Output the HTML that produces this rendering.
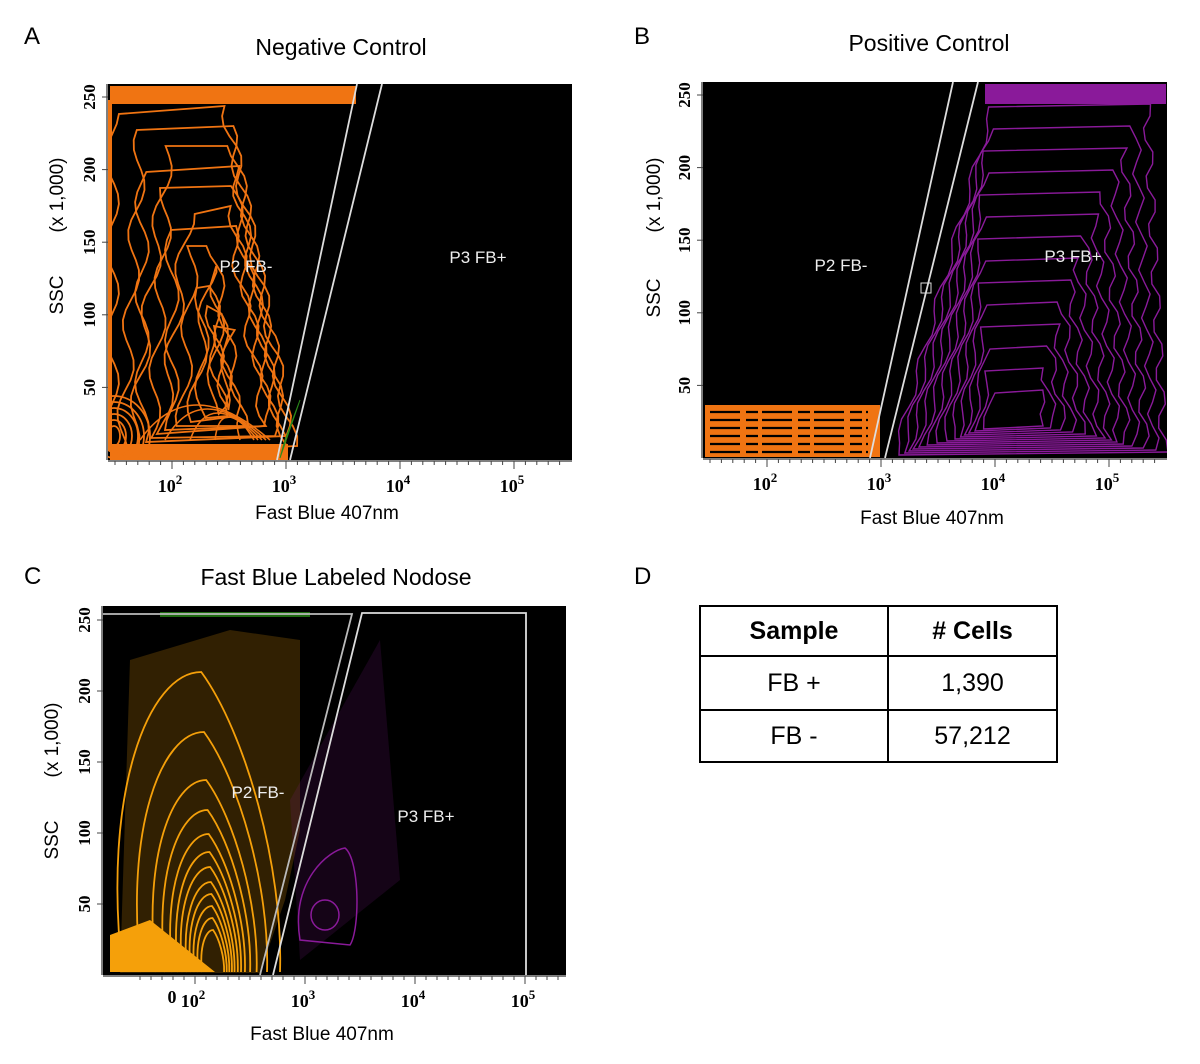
<!DOCTYPE html>
<html><head><meta charset="utf-8">
<style>
body{margin:0;background:#fff;width:1200px;height:1064px;overflow:hidden;font-family:"Liberation Sans",sans-serif;}
svg{position:absolute;left:0;top:0}
.tbl{position:absolute;left:699px;top:605px;width:359px;height:158px;border:2px solid #000;box-sizing:border-box;font-size:25px}
.tbl div{position:absolute;box-sizing:border-box;display:flex;align-items:center;justify-content:center}
</style></head><body>
<svg id="fig" width="1200" height="1064" viewBox="0 0 1200 1064"></svg>
<div class="tbl">
  <div style="left:0;top:0;width:188px;height:50px;border-right:2px solid #000;border-bottom:2px solid #000;font-weight:bold">Sample</div>
  <div style="left:188px;top:0;width:167px;height:50px;border-bottom:2px solid #000;font-weight:bold"># Cells</div>
  <div style="left:0;top:50px;width:188px;height:54px;border-right:2px solid #000;border-bottom:2px solid #000">FB +</div>
  <div style="left:188px;top:50px;width:167px;height:54px;border-bottom:2px solid #000">1,390</div>
  <div style="left:0;top:104px;width:188px;height:50px;border-right:2px solid #000">FB -</div>
  <div style="left:188px;top:104px;width:167px;height:50px">57,212</div>
</div>
<script>
const yTicks=[50,100,150,200,250];
const xDecades=[2,3,4,5];
const contourLevelsA=[0,1,2,3,4,5,6,7,8,9,10,11];
const contourLevelsB=[0,1,2,3,4,5,6,7,8,9,10,11,12,13];
const contourLevelsC=[1,0.8,0.64,0.54,0.46,0.4,0.35,0.3,0.26,0.22,0.18,0.14];
const svg=document.getElementById('fig');
const NS='http://www.w3.org/2000/svg';
function mk(tag,attrs,parent){const e=document.createElementNS(NS,tag);for(const k in attrs)e.setAttribute(k,attrs[k]);(parent||svg).appendChild(e);return e;}
function txt(x,y,s,attrs,parent){const t=mk('text',Object.assign({x:x,y:y},attrs),parent);t.textContent=s;return t;}
const defs=mk('defs',{});

const panels=[
 {id:'a',letter:'A',lx:24,ly:44,title:'Negative Control',tx:341,ty:55,x0:108,x1:572,y0:84,y1:460,y250:97,x2:172,dec:114,xl:327,xly:519,ylab:55,ssc:295,units:195},
 {id:'b',letter:'B',lx:634,ly:44,title:'Positive Control',tx:929,ty:51,x0:703,x1:1167,y0:82,y1:458,y250:95,x2:767,dec:114,xl:932,xly:524,ylab:652,ssc:298,units:195},
 {id:'c',letter:'C',lx:24,ly:584,title:'Fast Blue Labeled Nodose',tx:336,ty:585,x0:103,x1:566,y0:606,y1:975,y250:620,x2:195,dec:110,xl:322,xly:1040,ylab:50,ssc:840,units:740}
];
panels.forEach(p=>{
 const cp=mk('clipPath',{id:'clip-'+p.id},defs);
 mk('rect',{x:p.x0,y:p.y0,width:p.x1-p.x0,height:p.y1-p.y0},cp);
 const g=mk('g',{});
 
 
 const L=txt(p.lx,p.ly,p.letter,{'font-size':24,fill:'#000'},g);
 
 
 const T=txt(p.tx,p.ty,p.title,{'font-size':23,'text-anchor':'middle',fill:'#000'},g);
 
 
 const bg=mk('rect',{x:p.x0,y:p.y0,width:p.x1-p.x0,height:p.y1-p.y0,fill:'#000'},g);
 
 
 p.g=g;
 p.pg=mk('g',{'clip-path':'url(#clip-'+p.id+')'},g);
 p.ys=v=>p.y1-(p.y1-p.y250)*v/250;
 p.xs=d=>p.x2+(d-2)*p.dec;
 mk('line',{x1:p.x0,y1:p.y1+1,x2:p.x1,y2:p.y1+1,stroke:'#555','stroke-width':1.5},g);
 mk('line',{x1:p.x0-1,y1:p.y0,x2:p.x0-1,y2:p.y1,stroke:'#555','stroke-width':1.5},g);
 yTicks.forEach(v=>{
  const y=p.ys(v);
  mk('line',{x1:p.x0-6,y1:y,x2:p.x0,y2:y,stroke:'#444'},g);
  const t=txt(p.x0-13,y,String(v),{'font-size':17,'font-weight':'bold','font-family':'Liberation Serif, serif','text-anchor':'middle',transform:'rotate(-90 '+(p.x0-13)+' '+y+')',fill:'#000'},g);
  
  
 });
 for(let d=1.5;d<=5.4;d+=0.1){const x=p.xs(d);if(x<p.x0||x>p.x1)continue;const major=Math.abs(d-Math.round(d))<0.01;mk('line',{x1:x,y1:p.y1+1,x2:x,y2:p.y1+(major?9:5),stroke:'#444'},g);}
 xDecades.forEach(d=>{
  const x=p.xs(d);
  const t=txt(x-2,p.y1+32,'10',{'font-size':18,'font-weight':'bold','font-family':'Liberation Serif, serif','text-anchor':'middle',fill:'#000'},g);
  
  
  const s=mk('tspan',{dy:-8,'font-size':13},t);s.textContent=d;
 });
 const xl=txt(p.xl,p.xly,'Fast Blue 407nm',{'font-size':19,'text-anchor':'middle',fill:'#000'},g);
 
 
 const ya=txt(p.ylab+8,p.ssc,'SSC',{'font-size':19,'text-anchor':'middle',fill:'#000',transform:'rotate(-90 '+(p.ylab+8)+' '+p.ssc+')'},g);
 
 
 const yb=txt(p.ylab+8,p.units,'(x 1,000)',{'font-size':19,'text-anchor':'middle',fill:'#000',transform:'rotate(-90 '+(p.ylab+8)+' '+p.units+')'},g);
 
 
});
const [A,B,C]=panels;

const z=txt(172,1003,'0',{'font-size':18,'font-weight':'bold','font-family':'Liberation Serif, serif','text-anchor':'middle'},C.g);



function wavy(pts){return 'M'+pts.map(q=>q[0].toFixed(1)+','+q[1].toFixed(1)).join('L');}

// ===== Panel A =====
const OR='#f07412';
mk('rect',{x:110,y:86,width:246,height:18,fill:OR},A.pg);
mk('rect',{x:110,y:444,width:178,height:16,fill:OR},A.pg);
mk('rect',{x:108,y:100,width:4,height:350,fill:OR},A.pg);
contourLevelsA.forEach(i=>{
 const left=112+i*10, right=296-i*5-(i>6?18:0), top=106+i*20, bot=454-i*4;
 const pts=[];
 for(let y=bot;y>=top;y-=10){pts.push([left+7*Math.sin(y*0.07+i)+(bot-y)*0.06*(i%3),y]);}
 for(let y=top;y<=bot;y+=10){pts.push([Math.min(right-(bot-y)*0.17,296-(460-y)*0.2)+6*Math.sin(y*0.09+i*2),y]);}
 const c=mk('path',{d:wavy(pts)+'Z',fill:'none',stroke:OR,'stroke-width':1.8},A.pg);
 
 
});
for(let i=0;i<6;i++){mk('ellipse',{cx:114,cy:436,rx:6+i*6,ry:10+i*6,fill:'none',stroke:OR,'stroke-width':1.8},A.pg);}
for(let i=0;i<5;i++){mk('path',{d:'M'+(140+i*25)+',440 Q'+(190+i*10)+','+(370+i*8)+' '+(270-i*4)+',440',fill:'none',stroke:OR,'stroke-width':1.6},A.pg);}
mk('path',{d:'M280,458 L300,400 L285,440Z',fill:'none',stroke:'#2a8a1a'},A.pg);
const gA=mk('g',{},A.g);


mk('line',{x1:277,y1:460,x2:357,y2:84,stroke:'#ddd','stroke-width':1.8},gA);
mk('line',{x1:290,y1:460,x2:382,y2:84,stroke:'#ddd','stroke-width':1.8},gA);
[['P2 FB-',246,272],['P3 FB+',478,263]].forEach((q,k)=>{const t=txt(q[1],q[2],q[0],{'font-size':17,fill:'#eee','text-anchor':'middle'},A.g);});

// ===== Panel B =====
const PU='#8a1a9a';
mk('rect',{x:985,y:84,width:181,height:20,fill:PU},B.pg);
mk('rect',{x:705,y:405,width:175,height:52,fill:OR},B.pg);
for(let k=0;k<6;k++){mk('line',{x1:710,y1:412+k*8,x2:868,y2:412+k*8,stroke:'#000','stroke-width':2.2,'stroke-dasharray':'30 6 12 4'},B.pg);}
contourLevelsB.forEach(i=>{
 const left=895+i*7, right=1164-i*9, top=104+i*22, bot=455-i*2;
 const pts=[];
 for(let y=bot;y>=top;y-=12){pts.push([left+(bot-y)*(0.28-i*0.01)+4*Math.sin(y*0.1+i),y]);}
 for(let y=top;y<=bot;y+=12){pts.push([right-(bot-y)*(0.05+i*0.012)+5*Math.sin(y*0.13+i),y]);}
 const c=mk('path',{d:wavy(pts)+'Z',fill:'none',stroke:PU,'stroke-width':1.4},B.pg);
 
 
});
const gB=mk('g',{},B.g);


mk('line',{x1:870,y1:458,x2:953,y2:82,stroke:'#ddd','stroke-width':1.8},gB);
mk('line',{x1:885,y1:458,x2:978,y2:82,stroke:'#ddd','stroke-width':1.8},gB);
mk('rect',{x:921,y:283,width:10,height:10,fill:'none',stroke:'#ddd'},gB);
[['P2 FB-',841,271],['P3 FB+',1073,262]].forEach((q,k)=>{const t=txt(q[1],q[2],q[0],{'font-size':17,fill:'#eee','text-anchor':'middle'},B.g);});

// ===== Panel C =====
const OC='#f5a00a';
mk('path',{d:'M130,660 L230,630 L300,640 L300,830 L285,900 L260,973 L120,973Z',fill:OC,opacity:0.2},C.pg);
mk('path',{d:'M110,972 L110,935 L150,920 L215,972Z',fill:OC},C.pg);
mk('rect',{x:160,y:612,width:150,height:5,fill:'#1e6a10'},C.pg);
contourLevelsC.forEach((s,i)=>{
 const cx=175+40*(1-s), bot=972, h=300*s, w=175*s;
 const top=bot-h;
 const d='M'+(cx-w*0.3)+','+bot+' C'+(cx-w*0.42)+','+(bot-h*0.6)+' '+(cx-w*0.15)+','+top+' '+(cx+w*0.15)+','+top+' C'+(cx+w*0.4)+','+(top+h*0.2)+' '+(cx+w*0.62)+','+(bot-h*0.35)+' '+(cx+w*0.6)+','+bot;
 const c=mk('path',{d:d,fill:'none',stroke:OC,'stroke-width':1.8},C.pg);
 
 
});
mk('path',{d:'M300,940 C290,880 330,850 345,848 C360,860 360,930 350,945 Z',fill:'none',stroke:PU,'stroke-width':1.5},C.pg);
mk('ellipse',{cx:325,cy:915,rx:14,ry:15,fill:'none',stroke:PU,'stroke-width':1.5},C.pg);
mk('path',{d:'M290,800 L380,640 L400,880 L300,960Z',fill:PU,opacity:0.15},C.pg);
const gC=mk('g',{},C.g);


mk('polyline',{points:'103,614 352,614 260,975',fill:'none',stroke:'#bbb','stroke-width':1.8},gC);
mk('polyline',{points:'273,975 362,613 526,613 526,975',fill:'none',stroke:'#ddd','stroke-width':1.8},gC);
[['P2 FB-',258,798],['P3 FB+',426,822]].forEach((q,k)=>{const t=txt(q[1],q[2],q[0],{'font-size':17,fill:'#eee','text-anchor':'middle'},C.g);});

const D=txt(634,584,'D',{'font-size':24,fill:'#000'});


</script>
</body></html>
